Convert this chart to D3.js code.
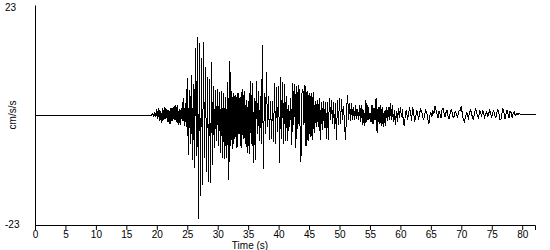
<!DOCTYPE html>
<html>
<head>
<meta charset="utf-8">
<script src="https://cdn.jsdelivr.net/npm/d3@7"></script>
<style>
  html, body { margin: 0; padding: 0; background: #fff; }
  svg { display: block; }
  text { font-family: "Liberation Sans", Arial, sans-serif; font-size: 10px; fill: #000; }
</style>
</head>
<body>
<div id="chart"></div>
<script>
// accelerogram, samples every 1/6 s after the trigger, values in cm/s/s
const sampleStep = 1 / 6
const triggerTime = 19.0
const quietLevel = 0

const xTicks = d3.range(0, 81, 5)
const yLabels = [23, -23]
const yLabel = 'cm/s/s'
const xLabel = 'Time (s)'

// 19 - 25 s
const pWaves = [
  0, 0, 0.3, -0.4, 0.6, -0.5,
  1.2, -0.9, 1.5, -1.3, 0.8, -1.6,
  1.4, -1.1, 1.7, -0.8, 1.3, -1.5,
  1.0, -1.9, 1.4, -1.2, 1.6, -1.0,
  2.1, -1.4, 2.0, -2.1, 1.2, -2.1,
  1.5, -1.2, 3.5, -2.4, 2.4, -2.6
]

// 25 - 40 s
const strongMotion = [
  7.8, -8.4, 5.2, -6.0, 8.4, -9.5,
  6.5, -11.0, 14.0, -8.5, 16.3, -21.8,
  15.0, -17.0, 12.0, -14.6, 15.3, -9.0,
  10.0, -12.0, 8.0, -14.0, 7.5, -14.2,
  11.0, -10.5, 6.0, -7.0, 5.3, -5.5,
  5.5, -6.5, 4.8, -8.0, 5.0, -9.0,
  4.5, -9.2, 3.8, -9.0, 7.0, -13.5,
  11.2, -6.5, 5.0, -7.2, 4.5, -5.0,
  4.2, -7.0, 4.6, -4.0, 3.8, -6.8,
  5.5, -5.0, 5.0, -6.0, 3.2, -8.0,
  3.0, -8.2, 7.2, -6.0, 6.6, -10.0,
  3.5, -9.4, 7.2, -4.0, 5.0, -5.5,
  4.0, -6.0, 14.6, -11.2, 4.5, -4.0,
  9.0, -2.5, 4.0, -5.2, 3.0, -5.0,
  3.0, -5.6, 6.6, -6.0, 5.8, -3.5
]

// 40 - 60 s
const coda = [
  6.0, -10.0, 8.0, -5.0, 7.0, -6.0,
  6.5, -5.4, 4.0, -5.5, 2.0, -2.5,
  3.5, -6.3, 6.6, -2.0, 6.4, -7.0,
  6.0, -3.0, 6.3, -1.5, -9.8, 4.5,
  5.5, -2.0, 6.3, -6.5, 5.0, -5.5,
  4.5, -4.5, 4.6, -5.2, 4.8, -3.8,
  3.0, -2.5, 3.2, -2.5, 3.5, -5.2,
  2.8, -3.2, 3.0, -2.8, 2.8, -5.0,
  2.8, -5.2, 3.5, -1.0, 3.2, -1.8,
  2.8, -3.0, 2.5, -5.2, 3.1, -2.0,
  3.5, -1.8, 3.4, -1.0, 1.8, -2.4,
  -5.2, 1.5, 4.2, -1.0, 2.5, -1.2,
  2.4, -1.0, 1.6, -1.0, 2.0, -0.8,
  1.2, -1.0, 2.1, -1.4, 2.1, -2.1,
  1.0, -2.4, 3.1, -1.5, 2.0, -1.0,
  0.5, -1.5, 2.1, -1.8, 1.5, -1.0,
  3.5, -3.8, 1.7, -1.8, 2.0, -2.2,
  1.7, -2.4, 0.9, -2.2, 1.7, -1.2,
  1.7, -1.0, 2.4, -1.0, 2.0, -1.5,
  1.0, -2.1, 0.8, -1.5, 1.4, -0.7
]

// 60 - 82.5 s
const tail = [
  1.7, -0.5, 1.2, -1.8, -2.1, 0.4,
  1.0, -1.0, 0.2, 1.4, 0.8, -1.2,
  1.7, 0.5, -1.4, -0.6, 1.1, 0.3,
  -1.0, 0.5, 1.2, 0.8, -0.5, -1.0,
  0.2, 1.0, 0.5, -0.8, -1.9, -0.2,
  0.6, -0.4, 0.8, 0.2, 1.9, 1.2,
  0.3, -0.7, 0.9, 0.2, -0.6, 1.0,
  1.4, 0.4, -0.4, 0.6, 1.0, -0.3,
  -0.8, 0.3, 1.1, 0.6, -0.5, -0.3,
  0.8, 0.4, -0.4, 0.2, 1.0, 0.9,
  1.9, 0.2, -1.0, -1.4, -0.6, 0.5,
  0.3, -1.0, 0.6, 1.0, 0.5, -0.6,
  -0.8, 0.4, 1.2, 0.8, -0.3, -0.7,
  0.8, 0.6, -0.3, 1.1, 0.4, -0.5,
  0.2, 0.7, -0.5, 0.3, 1.0, 0.2,
  -0.4, 0.6, 0.9, -0.2, -0.6, 0.5,
  1.2, 0.4, -0.9, -1.0, 0.3, 1.4,
  0.6, -0.8, 0.2, 1.0, 0.3, -0.6,
  0.9, 0.5, -0.5, 0.2, 0.7, -0.1,
  0.1, 0.3, 0.0, 0.4, 0.1, 0.2,
  0.1, 0.2, 0.1, 0.2, 0.2, 0.2,
  0.2, 0.2, 0.2, 0.2, 0.2, 0.2,
  0.2, 0.2, 0.2
]

const width = 550
const height = 250

const x = d3.scaleLinear().domain([0, 82.1]).range([35, 535])
const y = d3.scaleLinear().domain([-23, 23]).range([225, 5])

const samples = [{t: 0, a: quietLevel}].concat(
  pWaves.concat(strongMotion, coda, tail)
    .map((a, i) => ({t: triggerTime + i * sampleStep, a}))
)

const svg = d3.select('#chart')
  .append('svg')
  .attr('width', width)
  .attr('height', height)

const line = d3.line()
  .x(d => x(d.t))
  .y(d => y(d.a))

svg.append('path')
  .datum(samples)
  .attr('fill', 'none')
  .attr('stroke', '#000')
  .attr('stroke-width', 1)
  .attr('shape-rendering', 'crispEdges')
  .attr('d', line)

// x axis
const xAxis = svg.append('g')
  .attr('transform', `translate(0,${y.range()[0]})`)
  .call(d3.axisBottom(x).tickValues(xTicks).tickSizeOuter(0).tickSize(5).tickPadding(1))

xAxis.select('.domain').attr('stroke', '#000')
xAxis.selectAll('.tick line').attr('stroke', '#000')
xAxis.selectAll('.tick text')
  .attr('font-family', null)
  .attr('font-size', null)

// y axis, labels only at the ends
const yAxis = svg.append('g')
  .attr('transform', `translate(${x.range()[0]},0)`)
  .call(d3.axisLeft(y).tickValues(yLabels).tickFormat(d => String(d))
    .tickSizeOuter(0).tickSize(0).tickPadding(30))

yAxis.select('.domain').attr('stroke', '#000')
yAxis.selectAll('.tick text')
  .attr('font-family', null)
  .attr('font-size', null)
  .attr('text-anchor', 'start')
  .attr('dy', d => d > 0 ? '0.55em' : '0.25em')

svg.append('text')
  .attr('transform', `translate(16,${y(0)}) rotate(-90)`)
  .attr('text-anchor', 'middle')
  .text(yLabel)

svg.append('text')
  .attr('x', 250)
  .attr('y', 249)
  .attr('text-anchor', 'middle')
  .text(xLabel)
</script>
</body>
</html>
